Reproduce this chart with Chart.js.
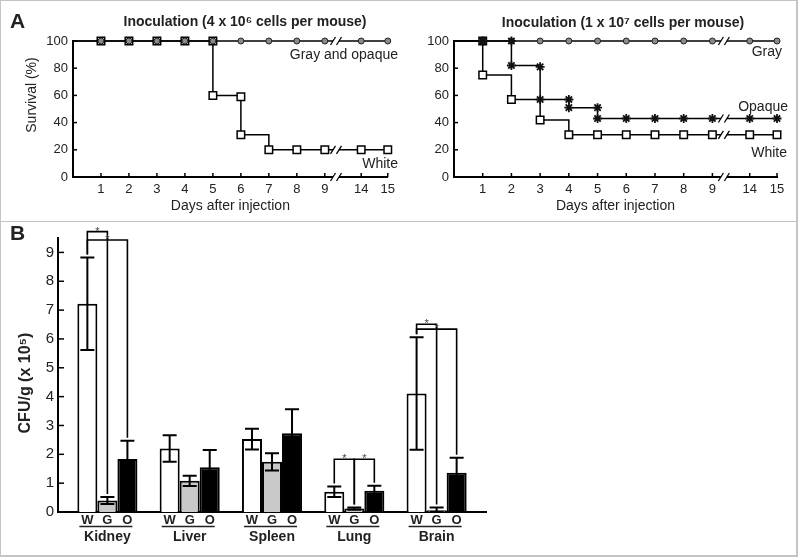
<!DOCTYPE html>
<html>
<head>
<meta charset="utf-8">
<script src="https://cdn.jsdelivr.net/npm/chart.js@4/dist/chart.umd.min.js"></script>
<style>
  body { margin: 0; background: #fff; }
  #wrap { position: relative; width: 798px; height: 557px; overflow: hidden; }
  canvas { position: absolute; }
  .frame { position: absolute; left: 0; top: 0; width: 795px; height: 554px; border: 1px solid #c4c4c4; border-right-width: 2px; border-bottom-width: 2px; pointer-events: none; }
  .divider { position: absolute; left: 0; top: 221px; width: 798px; height: 1px; background: #c4c4c4; }
</style>
</head>
<body>
<div id="wrap">
  <canvas id="survLow" width="400" height="220" style="left:0;top:0"></canvas>
  <canvas id="survHigh" width="398" height="220" style="left:400px;top:0"></canvas>
  <canvas id="burden" width="798" height="334" style="left:0;top:222px"></canvas>
  <div class="frame"></div>
  <div class="divider"></div>
</div>
<script>
// ---- panel A data (survival %, by day) ----
const tickDays = [1, 2, 3, 4, 5, 6, 7, 8, 9, 14, 15];

// 4 x 10^6 cells
const lowGrayOpaqueDays = [0, 1, 2, 3, 4, 5, 6, 7, 8, 9, 14, 15];
const lowGrayOpaqueSurv = [100, 100, 100, 100, 100, 100, 100, 100, 100, 100, 100, 100];
const lowWhiteDays = [0, 1, 2, 3, 4, 5, 5, 6, 6, 7, 8, 9, 14, 15];
const lowWhiteSurv = [100, 100, 100, 100, 100, 100, 60, 59, 31, 20, 20, 20, 20, 20];

// 1 x 10^7 cells
const highGrayDays = [0, 1, 2, 3, 4, 5, 6, 7, 8, 9, 14, 15];
const highGraySurv = [100, 100, 100, 100, 100, 100, 100, 100, 100, 100, 100, 100];
const highOpaqueDays = [0, 1, 2, 2, 3, 3, 4, 4, 5, 5, 6, 7, 8, 9, 14, 15];
const highOpaqueSurv = [100, 100, 100, 82, 81, 57, 57, 51, 51, 43, 43, 43, 43, 43, 43, 43];
const highWhiteDays = [0, 1, 1, 2, 3, 4, 5, 6, 7, 8, 9, 14, 15];
const highWhiteSurv = [100, 100, 75, 57, 42, 31, 31, 31, 31, 31, 31, 31, 31];

// ---- panel B data (CFU/g x 10^5) ----
const organs = ['Kidney', 'Liver', 'Spleen', 'Lung', 'Brain'];
const strainLetters = ['W', 'G', 'O'];
const whiteMean = [7.22, 2.2, 2.53, 0.7, 4.11];
const whiteErr = [1.6, 0.46, 0.36, 0.18, 1.95];
const grayMean = [0.4, 1.08, 1.74, 0.12, 0.06];
const grayErr = [0.12, 0.18, 0.3, 0.04, 0.1];
const opaqueMean = [1.84, 1.55, 2.73, 0.74, 1.36];
const opaqueErr = [0.63, 0.6, 0.83, 0.17, 0.52];
const cfuTicks = [0, 1, 2, 3, 4, 5, 6, 7, 8, 9];

// significance brackets: organ index, strain from, strain to, bracket level
const sigOrgan = [0, 0, 3, 3, 4, 4];
const sigFrom = [0, 0, 0, 1, 0, 0];
const sigTo = [1, 2, 1, 2, 1, 2];
const sigLevel = [9.72, 9.43, 1.83, 1.83, 6.51, 6.34];

Chart.defaults.font.family = '"Liberation Sans", Arial, sans-serif';
Chart.defaults.color = '#222';

// broken axis: days 10-13 are skipped
const dayToAxis = d => (d <= 9 ? d : 10.3 + (d - 14) * 0.95);
const breakAt = 9.4;

const hideDay0 = r => c => (c.raw && c.raw.x === 0 ? 0 : r);
const markers = {
  white: { pointStyle: 'rect', pointRadius: hideDay0(5.3), pointBackgroundColor: '#fff', pointBorderColor: '#000', pointBorderWidth: 1.5 },
  gray: { pointStyle: 'circle', pointRadius: hideDay0(3), pointBackgroundColor: '#8a8a8a', pointBorderColor: '#222', pointBorderWidth: 1 },
  opaque: { pointStyle: 'star', pointRadius: hideDay0(4.5), pointBorderColor: '#111', pointBorderWidth: 1.8 }
};

const series = (label, days, surv, marker) => Object.assign({
  label: label,
  data: days.map((d, i) => ({ x: dayToAxis(d), y: surv[i] })),
  stepped: true,
  borderColor: '#000',
  borderWidth: 1.5,
  fill: false,
  clip: false
}, marker);

// text drawn straight onto the canvas
function notes(items) {
  return {
    id: 'notes',
    afterDraw(chart) {
      const ctx = chart.ctx;
      items.forEach(n => {
        ctx.save();
        ctx.font = n.font;
        ctx.fillStyle = '#222';
        ctx.textAlign = n.align || 'center';
        ctx.textBaseline = 'middle';
        ctx.translate(n.x, n.y);
        if (n.rotate) ctx.rotate(n.rotate);
        ctx.fillText(n.text, 0, 0);
        ctx.restore();
      });
    }
  };
}

function innerTicks(lenX, lenY) {
  return {
    id: 'innerTicks',
    afterDraw(chart) {
      const { ctx, chartArea, scales } = chart;
      ctx.save();
      ctx.strokeStyle = '#000';
      ctx.lineWidth = 1.5;
      if (lenX) scales.x.ticks.forEach(t => {
        const px = scales.x.getPixelForValue(t.value);
        ctx.beginPath(); ctx.moveTo(px, chartArea.bottom); ctx.lineTo(px, chartArea.bottom - lenX); ctx.stroke();
      });
      if (lenY) scales.y.ticks.forEach(t => {
        const py = scales.y.getPixelForValue(t.value);
        ctx.beginPath(); ctx.moveTo(chartArea.left, py); ctx.lineTo(chartArea.left + lenY, py); ctx.stroke();
      });
      ctx.restore();
    }
  };
}

function axisBreak(at) {
  return {
    id: 'axisBreak',
    afterDraw(chart) {
      const { ctx, chartArea, scales } = chart;
      const px = scales.x.getPixelForValue(at);
      const levels = [chartArea.bottom];
      chart.data.datasets.forEach(ds => {
        const before = ds.data.filter(p => p.x < at);
        levels.push(scales.y.getPixelForValue(before[before.length - 1].y));
      });
      ctx.save();
      levels.forEach(y => {
        ctx.fillStyle = '#fff';
        ctx.fillRect(px - 3, y - 2, 6, 4);
        ctx.strokeStyle = '#000';
        ctx.lineWidth = 1.3;
        [-3, 3].forEach(dx => {
          ctx.beginPath(); ctx.moveTo(px + dx - 2.5, y + 4); ctx.lineTo(px + dx + 2.5, y - 4); ctx.stroke();
        });
      });
      ctx.restore();
    }
  };
}

function survivalChart(id, datasets, yWidth, rightPad, texts) {
  return new Chart(document.getElementById(id), {
    type: 'line',
    data: { datasets: datasets },
    options: {
      responsive: false,
      animation: false,
      events: [],
      layout: { padding: { top: 41, left: 0, right: rightPad, bottom: 0 } },
      plugins: { legend: { display: false }, tooltip: { enabled: false } },
      scales: {
        x: {
          type: 'linear', min: 0, max: dayToAxis(15),
          afterBuildTicks: s => { s.ticks = tickDays.map(d => ({ value: dayToAxis(d) })); },
          afterFit: s => { s.height = 43; },
          grid: { display: false, drawTicks: false },
          border: { color: '#000', width: 2 },
          ticks: { font: { size: 13 }, padding: 5, maxRotation: 0, autoSkip: false, callback: (v, i) => String(tickDays[i]) },
          title: { display: true, text: 'Days after injection', font: { size: 14 }, padding: { top: 0, bottom: 5 } }
        },
        y: {
          min: 0, max: 100,
          afterFit: s => { s.width = yWidth; },
          grid: { display: false, drawTicks: false },
          border: { color: '#000', width: 2 },
          ticks: { stepSize: 20, font: { size: 13 }, padding: 5 }
        }
      }
    },
    plugins: [innerTicks(4, 4), axisBreak(breakAt), notes(texts)]
  });
}

survivalChart('survLow', [
  series('Gray and opaque', lowGrayOpaqueDays, lowGrayOpaqueSurv, markers.gray),
  series('White', lowWhiteDays, lowWhiteSurv, markers.white)
], 73, 5, [
  { text: 'A', x: 10, y: 22, font: 'bold 21px "Liberation Sans", Arial', align: 'left' },
  { text: 'Inoculation (4 x 10\u2076 cells per mouse)', x: 245, y: 22, font: 'bold 14px "Liberation Sans", Arial' },
  { text: 'Survival (%)', x: 32, y: 95, font: '14px "Liberation Sans", Arial', rotate: -Math.PI / 2 },
  { text: 'Gray and opaque', x: 398, y: 55, font: '14px "Liberation Sans", Arial', align: 'right' },
  { text: 'White', x: 398, y: 164, font: '14px "Liberation Sans", Arial', align: 'right' }
]);

survivalChart('survHigh', [
  series('Opaque', highOpaqueDays, highOpaqueSurv, markers.opaque),
  series('Gray', highGrayDays, highGraySurv, markers.gray),
  series('White', highWhiteDays, highWhiteSurv, markers.white)
], 54, 21, [
  { text: 'Inoculation (1 x 10\u2077 cells per mouse)', x: 223, y: 23, font: 'bold 14px "Liberation Sans", Arial' },
  { text: 'Gray', x: 382, y: 52, font: '14px "Liberation Sans", Arial', align: 'right' },
  { text: 'Opaque', x: 388, y: 107, font: '14px "Liberation Sans", Arial', align: 'right' },
  { text: 'White', x: 387, y: 153, font: '14px "Liberation Sans", Arial', align: 'right' }
]);

// ---- panel B plugins ----
const errorBars = {
  id: 'errorBars',
  afterDatasetsDraw(chart) {
    const { ctx } = chart;
    const y = chart.scales.y;
    ctx.save();
    ctx.strokeStyle = '#000';
    ctx.lineWidth = 2;
    chart.data.datasets.forEach((ds, d) => {
      chart.getDatasetMeta(d).data.forEach((bar, i) => {
        const m = ds.data[i].y, e = ds.errors[i];
        const top = y.getPixelForValue(m + e);
        const bot = y.getPixelForValue(Math.max(0, m - e));
        ctx.beginPath();
        ctx.moveTo(bar.x, top); ctx.lineTo(bar.x, bot);
        ctx.moveTo(bar.x - 7, top); ctx.lineTo(bar.x + 7, top);
        ctx.moveTo(bar.x - 7, bot); ctx.lineTo(bar.x + 7, bot);
        ctx.stroke();
      });
    });
    ctx.restore();
  }
};

const sigBrackets = {
  id: 'sigBrackets',
  afterDatasetsDraw(chart) {
    const { ctx } = chart;
    const y = chart.scales.y;
    const tip = (d, o) => {
      const ds = chart.data.datasets[d];
      return y.getPixelForValue(ds.data[o].y + ds.errors[o]) - 3;
    };
    ctx.save();
    ctx.strokeStyle = '#000';
    ctx.lineWidth = 1.6;
    sigOrgan.forEach((o, k) => {
      const xa = chart.getDatasetMeta(sigFrom[k]).data[o].x;
      const xb = chart.getDatasetMeta(sigTo[k]).data[o].x;
      const yl = y.getPixelForValue(sigLevel[k]);
      ctx.beginPath();
      ctx.moveTo(xa, tip(sigFrom[k], o));
      ctx.lineTo(xa, yl);
      ctx.lineTo(xb, yl);
      ctx.lineTo(xb, tip(sigTo[k], o));
      ctx.stroke();
      ctx.fillStyle = '#444';
      ctx.font = '11px "Liberation Sans", Arial';
      ctx.textAlign = 'center';
      ctx.textBaseline = 'alphabetic';
      ctx.fillText('*', (xa + xb) / 2, yl + 3);
    });
    ctx.restore();
  }
};

const groupLetters = {
  id: 'groupLetters',
  afterDraw(chart) {
    const { ctx, chartArea } = chart;
    ctx.save();
    ctx.fillStyle = '#222';
    ctx.strokeStyle = '#222';
    ctx.lineWidth = 1.5;
    ctx.font = 'bold 13px "Liberation Sans", Arial';
    ctx.textAlign = 'center';
    ctx.textBaseline = 'middle';
    chart.data.datasets.forEach((ds, d) => {
      chart.getDatasetMeta(d).data.forEach(bar => ctx.fillText(ds.label, bar.x, chartArea.bottom + 8));
    });
    const first = chart.getDatasetMeta(0).data;
    const last = chart.getDatasetMeta(chart.data.datasets.length - 1).data;
    first.forEach((bar, i) => {
      ctx.beginPath();
      ctx.moveTo(bar.x - 8, chartArea.bottom + 14.5);
      ctx.lineTo(last[i].x + 5, chartArea.bottom + 14.5);
      ctx.stroke();
    });
    ctx.restore();
  }
};

const barSet = (letter, mean, err, fill) => ({
  label: letter,
  data: mean.map((v, i) => ({ x: i, y: v })),
  errors: err,
  backgroundColor: fill,
  borderColor: '#000',
  borderWidth: 2
});

new Chart(document.getElementById('burden'), {
  type: 'bar',
  data: {
    datasets: [
      barSet(strainLetters[0], whiteMean, whiteErr, '#ffffff'),
      barSet(strainLetters[1], grayMean, grayErr, '#c8c8c8'),
      barSet(strainLetters[2], opaqueMean, opaqueErr, '#000000')
    ]
  },
  options: {
    responsive: false,
    animation: false,
    events: [],
    categoryPercentage: 0.73,
    barPercentage: 1,
    layout: { padding: { top: 16, left: 0, right: 312, bottom: 0 } },
    plugins: { legend: { display: false }, tooltip: { enabled: false } },
    scales: {
      x: {
        type: 'linear', min: -0.6, max: 4.6, offset: false,
        afterBuildTicks: s => { s.ticks = organs.map((_, i) => ({ value: i })); },
        afterFit: s => { s.height = 44; },
        grid: { display: false, drawTicks: false, offset: false },
        border: { color: '#000', width: 2 },
        ticks: { font: { size: 14, weight: 'bold' }, padding: 17, maxRotation: 0, autoSkip: false, callback: (v, i) => organs[i] }
      },
      y: {
        min: 0, max: 9.5,
        afterBuildTicks: s => { s.ticks = cfuTicks.map(v => ({ value: v })); },
        afterFit: s => { s.width = 58; },
        grid: { display: false, drawTicks: false },
        border: { color: '#000', width: 2 },
        ticks: { font: { size: 15 }, padding: 4 }
      }
    }
  },
  plugins: [errorBars, sigBrackets, groupLetters, innerTicks(0, 6), notes([
    { text: 'B', x: 10, y: 12, font: 'bold 21px "Liberation Sans", Arial', align: 'left' },
    { text: 'CFU/g (x 10\u2075)', x: 26, y: 161, font: 'bold 16px "Liberation Sans", Arial', rotate: -Math.PI / 2 }
  ])]
});
</script>
</body>
</html>
